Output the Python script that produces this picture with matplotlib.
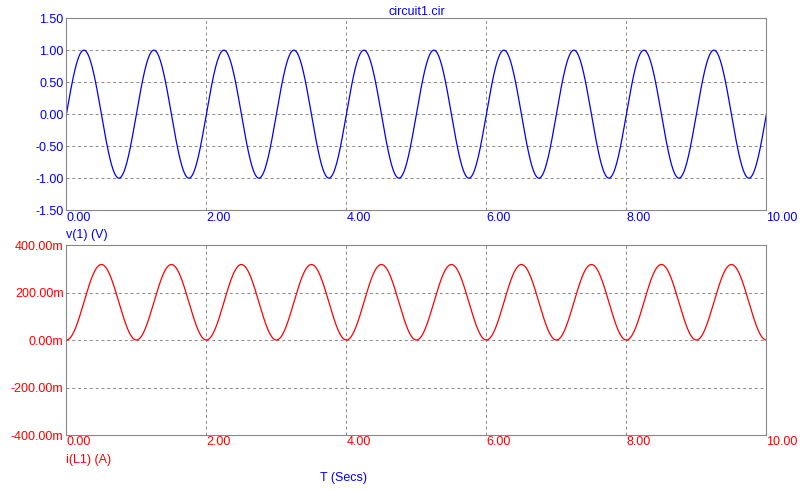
import matplotlib
matplotlib.use("Agg")
import matplotlib.pyplot as plt
import numpy as np

plt.rcParams['font.family'] = ['Liberation Sans', 'DejaVu Sans']

# circuit parameters
t_end = 10.0          # seconds
freq = 1.0            # Hz, 10 cycles in 10 s
v_amp = 1.0           # volts
i_peak = 0.318        # amps, peak of inductor current

v_ticks = [-1.5, -1.0, -0.5, 0.0, 0.5, 1.0, 1.5]
i_ticks = [-0.4, -0.2, 0.0, 0.2, 0.4]
i_tick_labels = ["-400.00m", "-200.00m", "0.00m", "200.00m", "400.00m"]
t_ticks = [0, 2, 4, 6, 8, 10]

t = np.linspace(0, t_end, 4001)
v = v_amp * np.sin(2 * np.pi * freq * t)
i_l = i_peak / 2 * (1 - np.cos(2 * np.pi * freq * t))

blue = "#0000ff"
red = "#ff0000"

fig = plt.figure(figsize=(8, 4.91), dpi=100)
ax1 = fig.add_axes([0.083, 0.572, 0.875, 0.391])
ax2 = fig.add_axes([0.083, 0.114, 0.875, 0.387])

def style(ax, color, yticks, ylabels, name):
	ax.set_xlim(0, t_end)
	ax.set_ylim(yticks[0], yticks[-1])
	ax.set_yticks(yticks)
	ax.set_yticklabels(ylabels, color=color, fontsize=9)
	ax.set_xticks(t_ticks)
	ax.set_xticklabels(["%.2f" % x for x in t_ticks], color=color, fontsize=9)
	ax.tick_params(length=0, pad=2)
	ax.tick_params(axis="x", pad=1)
	for lbl in ax.get_xticklabels():
		lbl.set_horizontalalignment("left")
	ax.grid(True, color="#888888", linestyle=(0, (3, 3)), linewidth=0.7)
	for s in ax.spines.values():
		s.set_color("#888888")
		s.set_linewidth(0.8)
	ax.text(0, -0.1, name, transform=ax.transAxes, color=color, fontsize=9,
		ha="left", va="top")

ax1.plot(t, v, color=blue, linewidth=0.9)
style(ax1, blue, v_ticks, ["%.2f" % y for y in v_ticks], "v(1) (V)")
ax1.set_title("circuit1.cir", color=blue, fontsize=9, pad=2)

ax2.plot(t, i_l, color=red, linewidth=0.9)
style(ax2, red, i_ticks, i_tick_labels, "i(L1) (A)")
fig.text(0.43, 0.02, "T (Secs)", color=blue, fontsize=9, ha="center")

fig.savefig("out.png", dpi=100)
